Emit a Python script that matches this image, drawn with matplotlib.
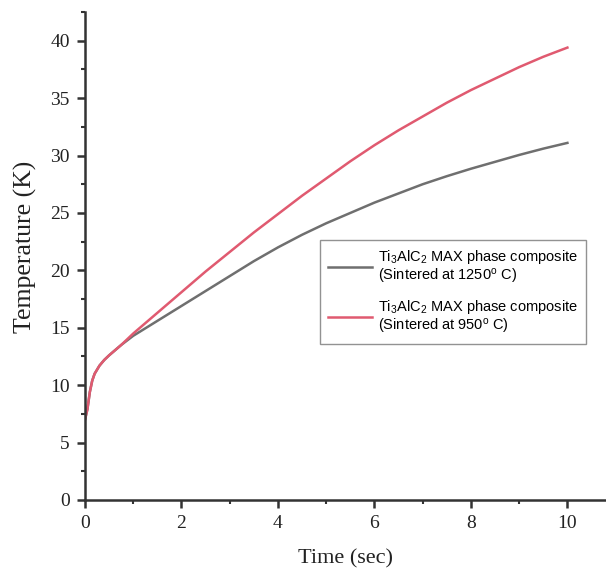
import matplotlib
matplotlib.use("Agg")
import matplotlib.pyplot as plt
from matplotlib.ticker import MultipleLocator

time = [0, 0.05, 0.1, 0.15, 0.2, 0.3, 0.4, 0.5, 0.75, 1.0, 1.5, 2.0, 2.5, 3.0, 3.5, 4.0,
        4.5, 5.0, 5.5, 6.0, 6.5, 7.0, 7.5, 8.0, 8.5, 9.0, 9.5, 10.0]
temp_1250 = [7.0, 7.9, 9.4, 10.4, 11.0, 11.7, 12.2, 12.6, 13.5, 14.3, 15.6, 16.9, 18.2, 19.5,
             20.8, 22.0, 23.1, 24.1, 25.0, 25.9, 26.7, 27.5, 28.2, 28.85, 29.45, 30.05, 30.6, 31.1]
temp_950 = [7.0, 7.9, 9.4, 10.4, 11.0, 11.7, 12.2, 12.6, 13.5, 14.5, 16.3, 18.1, 19.9, 21.6,
            23.3, 24.9, 26.5, 28.0, 29.5, 30.9, 32.2, 33.4, 34.6, 35.7, 36.7, 37.7, 38.6, 39.4]
labels = ["Ti$_3$AlC$_2$ MAX phase composite\n(Sintered at 1250$^{o}$ C)",
          "Ti$_3$AlC$_2$ MAX phase composite\n(Sintered at 950$^{o}$ C)"]
xticks = [0, 2, 4, 6, 8, 10]
yticks = [0, 5, 10, 15, 20, 25, 30, 35, 40]

plt.rcParams['mathtext.fontset'] = 'custom'
plt.rcParams['mathtext.rm'] = 'Liberation Sans'
plt.rcParams['mathtext.it'] = 'Liberation Sans'

fig = plt.figure(figsize=(6.06, 5.75), dpi=100)
ax = fig.add_axes([85/606, 75/575, (606-85)/606, 488/575])

ax.plot(time, temp_1250, color="#6f6f6f", lw=1.8, label=labels[0])
ax.plot(time, temp_950, color="#e05a70", lw=1.8, label=labels[1])

ax.set_xlim(0, 10.8)
ax.set_ylim(0, 42.5)
ax.set_xticks(xticks)
ax.set_yticks(yticks)
ax.xaxis.set_minor_locator(MultipleLocator(1))
ax.yaxis.set_minor_locator(MultipleLocator(2.5))

for s in ["top", "right"]:
    ax.spines[s].set_visible(False)
for s in ["left", "bottom"]:
    ax.spines[s].set_linewidth(1.8)
    ax.spines[s].set_color("#333333")

ax.tick_params(which="major", direction="out", length=6, width=1.8, color="#333333",
               labelsize=14, pad=5)
ax.tick_params(which="minor", direction="out", length=3, width=1.5, color="#333333")
for lab in ax.get_xticklabels() + ax.get_yticklabels():
    lab.set_fontfamily("Liberation Serif")
    lab.set_color("#222222")

ax.set_xlabel("Time (sec)", fontfamily="Liberation Serif", fontsize=16, color="#222222", labelpad=12)
ax.set_ylabel("Temperature (K)", fontfamily="Liberation Serif", fontsize=18.5, color="#222222")
ax.yaxis.set_label_coords(-0.092, 0.518)

leg = ax.legend(loc="upper left", bbox_to_anchor=(320/606, 1-240/575), bbox_transform=fig.transFigure,
                borderaxespad=0, frameon=True, fancybox=False, edgecolor="#777777",
                prop={"family": "Liberation Sans", "size": 10.5}, handlelength=3.0,
                handletextpad=0.4, labelspacing=0.85, borderpad=0.55)
for t in leg.get_texts():
    t.set_linespacing(1.05)
leg.get_frame().set_linewidth(1.0)

fig.savefig("out.png", dpi=100)
